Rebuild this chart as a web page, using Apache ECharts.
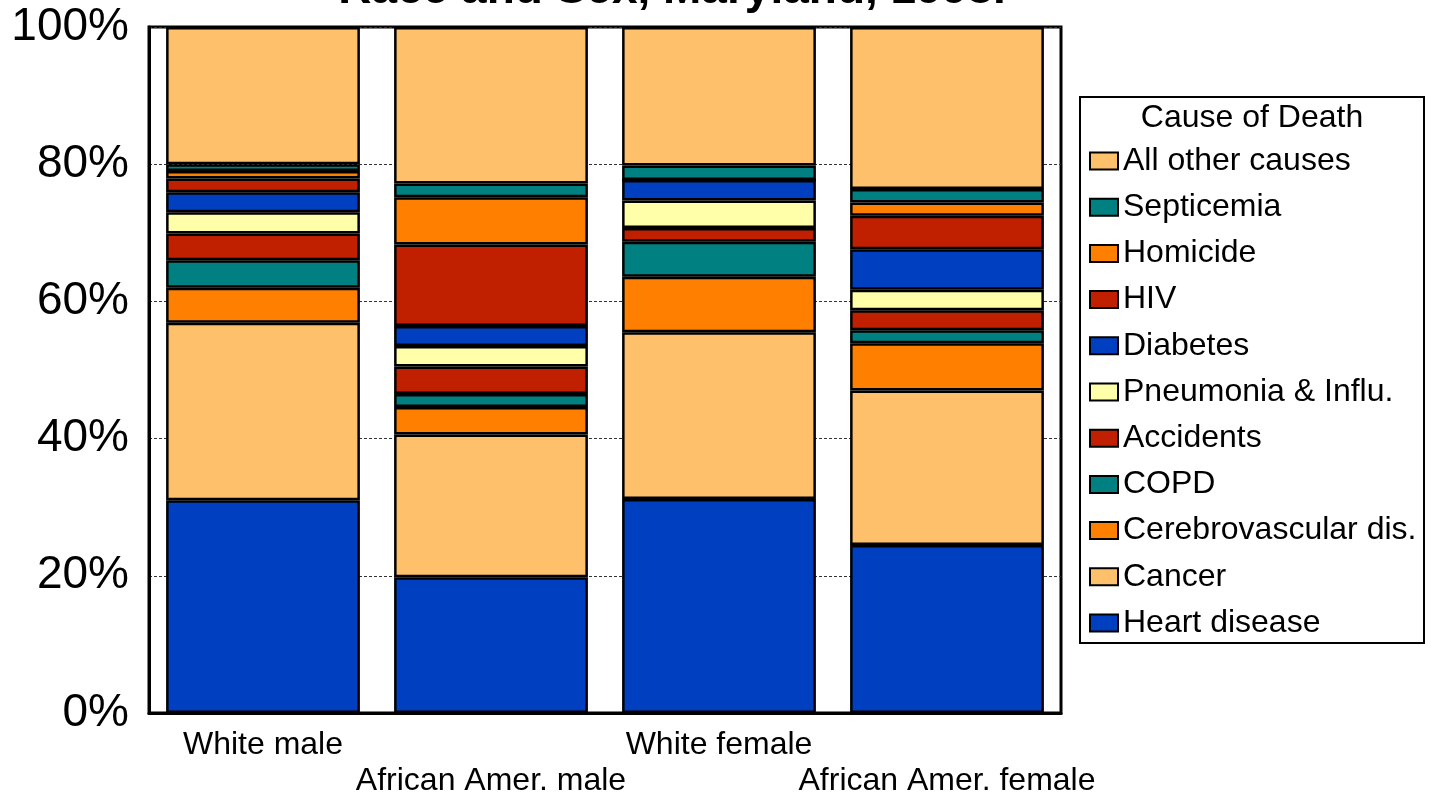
<!DOCTYPE html>
<html>
<head>
<meta charset="utf-8">
<script src="https://cdn.jsdelivr.net/npm/echarts@6/dist/echarts.min.js"></script>
<style>
html,body{margin:0;padding:0;background:#fff;}
#chart{width:1431px;height:795px;}
</style>
</head>
<body>
<div id="chart"></div>
<script>
const categories = ['White male', 'African Amer. male', 'White female', 'African Amer. female'];
const yTicks = [0, 20, 40, 60, 80, 100];

const heartDisease   = [31.0, 19.8, 31.2, 24.5];
const cancer         = [25.9, 20.8, 24.3, 22.5];
const cerebrovasc    = [5.1, 4.0, 8.1, 6.9];
const copd           = [4.0, 1.9, 5.1, 1.9];
const accidents      = [3.9, 4.0, 2.0, 2.9];
const pneumonia      = [3.1, 3.0, 4.0, 3.0];
const diabetes       = [2.9, 2.9, 3.0, 5.9];
const hiv            = [2.0, 11.9, 0, 4.9];
const homicide       = [1.1, 6.9, 0, 1.9];
const septicemia     = [1.0, 2.0, 2.1, 2.0];
const allOther       = [20.0, 22.8, 20.2, 23.6];

const seriesNames = ['Heart disease', 'Cancer', 'Cerebrovascular dis.', 'COPD', 'Accidents',
  'Pneumonia & Influ.', 'Diabetes', 'HIV', 'Homicide', 'Septicemia', 'All other causes'];
const seriesData = [heartDisease, cancer, cerebrovasc, copd, accidents, pneumonia, diabetes, hiv, homicide, septicemia, allOther];
const seriesColors = ['#0040C0', '#FFC06C', '#FF8000', '#008080', '#C02000',
  '#FFFFAA', '#0040C0', '#C02000', '#FF8000', '#008080', '#FFC06C'];

const FONT = '"Liberation Sans", Arial, sans-serif';

const chart = echarts.init(document.getElementById('chart'), null, {renderer: 'canvas'});

const series = seriesNames.map((name, i) => ({
  name: name,
  type: 'bar',
  stack: 'total',
  barWidth: '85%',
  data: seriesData[i],
  itemStyle: {color: seriesColors[i], borderColor: '#000', borderWidth: 2.5},
  emphasis: {disabled: true}
}));

chart.setOption({
  animation: false,
  backgroundColor: '#fff',
  grid: {
    left: 149, right: 370, top: 27, bottom: 82,
    outerBoundsMode: 'none',
    containLabel: false,
    show: true, borderColor: '#000', borderWidth: 3, backgroundColor: 'transparent'
  },
  xAxis: {
    type: 'category',
    data: categories,
    axisLine: {show: true, lineStyle: {color: '#000', width: 3}},
    axisTick: {show: false},
    axisLabel: {
      interval: 0,
      color: '#000',
      fontFamily: FONT,
      fontSize: 32,
      lineHeight: 36,
      margin: 14,
      formatter: function (v, idx) { return idx % 2 === 1 ? '\n' + v : v; }
    }
  },
  yAxis: {
    type: 'value',
    min: yTicks[0],
    max: yTicks[yTicks.length - 1],
    interval: 20,
    axisLine: {show: true, lineStyle: {color: '#000', width: 3}},
    axisTick: {show: false},
    splitLine: {show: true, lineStyle: {color: '#333', width: 1, type: [3, 2]}},
    axisLabel: {
      color: '#000', fontFamily: FONT, fontSize: 46, margin: 20,
      padding: [6, 0, 0, 0],
      formatter: '{value}%'
    }
  },
  legend: {
    orient: 'vertical',
    left: 1089,
    top: 144,
    padding: 0,
    itemWidth: 28,
    itemHeight: 17,
    itemGap: 12.2,
    icon: 'rect',
    selectedMode: false,
    textStyle: {color: '#000', fontFamily: FONT, fontSize: 32, lineHeight: 34, padding: [0, 0, 0, 0]},
    data: seriesNames.slice().reverse()
  },
  graphic: [
    {
      type: 'rect',
      shape: {x: 1080, y: 97, width: 344, height: 546},
      style: {fill: 'none', stroke: '#000', lineWidth: 2},
      silent: true
    },
    {
      type: 'text',
      x: 1252, y: 118,
      style: {text: 'Cause of Death', fill: '#000', font: '32px ' + FONT, align: 'center', verticalAlign: 'middle'},
      silent: true
    },
    {
      type: 'text',
      x: 672, y: -10,
      style: {text: 'Race and Sex, Maryland, 1998.', fill: '#000', font: 'bold 46px ' + FONT, align: 'center', verticalAlign: 'middle'},
      silent: true
    }
  ],
  series: series
});
</script>
</body>
</html>
